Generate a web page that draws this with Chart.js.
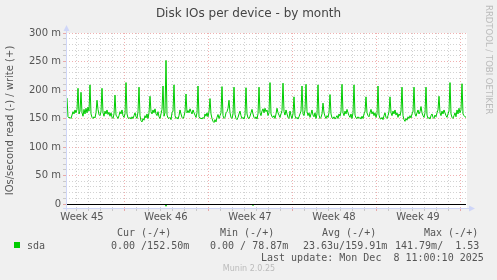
<!DOCTYPE html>
<html>
<head>
<meta charset="utf-8">
<script src="https://cdn.jsdelivr.net/npm/chart.js@4.4.1/dist/chart.umd.min.js"></script>
<style>
  html, body { margin: 0; padding: 0; background: #f0f0f0; }
  canvas { display: block; }
</style>
</head>
<body>
<canvas id="grafico" width="497" height="280"></canvas>
<script>
// escritas (+) por amostra de 2 horas, em milli-IOs/s
const escrita = [
  186,153,151,152,150,156,162,158,165,160,166,203,158,163,196,160,154,166,158,168,
  160,170,163,209,158,152,150,153,151,160,182,166,157,155,162,203,160,154,163,158,
  165,157,161,154,160,152,150,158,191,156,153,150,155,162,158,165,155,152,158,213,
  158,151,150,152,149,153,150,155,160,153,150,162,205,155,146,144,150,147,155,151,
  158,150,160,189,162,158,165,160,167,158,155,162,153,150,158,166,207,154,160,252,
  156,151,150,152,148,160,163,209,155,150,152,149,155,165,158,152,150,154,162,193,
  160,164,160,167,162,158,165,160,156,152,160,207,153,150,151,149,152,150,158,154,
  160,153,162,185,158,150,145,143,148,144,152,157,150,155,160,206,155,150,152,160,
  162,168,182,160,152,150,158,205,157,150,148,152,158,163,155,150,152,149,156,204,
  158,151,150,154,160,166,158,152,150,153,149,158,205,160,155,163,167,160,168,162,
  165,155,160,213,158,153,152,155,150,158,168,160,156,152,158,164,212,162,156,165,
  158,152,150,163,155,150,158,188,155,150,152,149,153,158,163,207,158,155,165,210,
  162,155,160,152,158,165,156,153,160,150,158,209,156,150,152,158,177,160,154,150,
  155,152,160,192,158,151,150,153,149,152,155,150,158,154,162,210,160,155,163,158,
  166,160,155,152,158,150,160,209,156,151,150,153,150,152,149,154,150,158,162,188,
  160,155,153,160,166,158,162,155,160,152,158,207,156,150,149,152,148,155,160,152,
  150,155,162,188,160,155,163,158,165,156,160,152,158,155,163,205,155,148,145,150,
  147,153,150,155,151,158,162,205,158,154,160,165,158,162,171,160,155,152,160,205,
  156,150,152,149,155,158,152,150,156,153,160,165,189,160,155,163,158,165,160,155,
  152,158,163,213,158,152,150,155,160,153,165,158,168,160,165,211,158,155,153,152
];
// leituras (-): quase sempre zero, só dois pequenos desvios
const leituraAmostras = [98, 99, 100, null, 185, 186, 187];
const leituraValores = [0, 4, 0, null, 0, 3, 0];

// horas relativas a seg 10 nov 00:00
const inicioHoras = -114;
const passoHoras = 2;
const eixoXMin = -116;
const eixoXMax = 686;

const semanas = ["Week 45", "Week 46", "Week 47", "Week 48", "Week 49"];
const centrosSemana = [-84, 84, 252, 420, 588];

const valoresY = [0, 50, 100, 150, 200, 250, 300];
const rotulosY = ["0", "50 m", "100 m", "150 m", "200 m", "250 m", "300 m"];

const cabecalhos = ["Cur (-/+)", "Min (-/+)", "Avg (-/+)", "Max (-/+)"];
const valoresLegenda = ["0.00 /152.50m", "0.00 / 78.87m", "23.63u/159.91m", "141.79m/  1.53"];
const serieNome = "sda";
const ultimaAtualizacao = "Last update: Mon Dec  8 11:00:10 2025";

const VERDE = "#00cc00";
const COR_TEXTO = "#555555";
const COR_EIXO = "#cfd6f8";
const GRADE = "rgba(143,143,143,0.4)";
const GRADE_MAIOR = "rgba(222,79,79,0.45)";

const pontosEscrita = escrita.map((v, i) => ({ x: inicioHoras + i * passoHoras, y: v }));
const pontosLeitura = leituraAmostras.map((a, k) =>
  a === null ? { x: null, y: null } : { x: inicioHoras + a * passoHoras, y: -leituraValores[k] }
);

const decoracao = {
  id: "decoracao",
  beforeDraw(chart) {
    const { ctx, chartArea: a } = chart;
    ctx.save();
    ctx.fillStyle = "#f0f0f0";
    ctx.fillRect(0, 0, chart.width, chart.height);
    ctx.fillStyle = "#ffffff";
    ctx.fillRect(a.left, a.top, a.right - a.left, a.bottom - a.top);
    ctx.restore();
  },
  afterDatasetsDraw(chart) {
    const { ctx, chartArea: a, scales } = chart;
    const y0 = Math.round(scales.y.getPixelForValue(0)) + 0.5;
    ctx.save();
    // linha do zero
    ctx.strokeStyle = "#000000";
    ctx.lineWidth = 1;
    ctx.beginPath();
    ctx.moveTo(a.left, y0);
    ctx.lineTo(a.right - 1, y0);
    ctx.stroke();
    // eixos com setas
    ctx.strokeStyle = COR_EIXO;
    ctx.fillStyle = COR_EIXO;
    const xl = Math.round(a.left) + 0.5;
    const yb = Math.round(a.bottom) + 0.5;
    ctx.beginPath();
    ctx.moveTo(xl, a.bottom + 3);
    ctx.lineTo(xl, a.top - 4);
    ctx.moveTo(a.left - 3, yb);
    ctx.lineTo(a.right + 4, yb);
    ctx.stroke();
    ctx.beginPath();
    ctx.moveTo(xl - 3, a.top - 2);
    ctx.lineTo(xl + 3, a.top - 2);
    ctx.lineTo(xl, a.top - 8);
    ctx.closePath();
    ctx.fill();
    ctx.beginPath();
    ctx.moveTo(a.right + 2, yb - 3);
    ctx.lineTo(a.right + 2, yb + 3);
    ctx.lineTo(a.right + 8, yb);
    ctx.closePath();
    ctx.fill();
    ctx.restore();
  },
  afterDraw(chart) {
    const { ctx } = chart;
    ctx.save();
    ctx.textBaseline = "middle";
    ctx.fillStyle = "#444444";
    ctx.font = "12px 'DejaVu Sans'";
    ctx.textAlign = "center";
    ctx.fillText("Disk IOs per device - by month", 248.5, 14);

    ctx.font = "10px 'DejaVu Sans Mono'";
    ctx.textAlign = "left";
    ctx.fillStyle = COR_TEXTO;
    const colX = [117, 220, 322, 424];
    const valX = [111, 210, 303, 395];
    cabecalhos.forEach((t, i) => ctx.fillText(t, colX[i], 233.5));
    valoresLegenda.forEach((t, i) => ctx.fillText(t, valX[i], 246.5));
    ctx.fillText(serieNome, 27, 246.5);
    ctx.fillText(ultimaAtualizacao, 261, 258.5);
    ctx.fillStyle = VERDE;
    ctx.fillRect(14, 242, 6, 6);

    ctx.fillStyle = "#bbbbbb";
    ctx.font = "8px 'DejaVu Sans'";
    ctx.textAlign = "center";
    ctx.fillText("Munin 2.0.25", 249, 269);

    ctx.translate(488.5, 5);
    ctx.rotate(Math.PI / 2);
    ctx.textAlign = "left";
    ctx.font = "8.5px 'DejaVu Sans'";
    ctx.fillText("RRDTOOL / TOBI OETIKER", 0, 0);
    ctx.restore();
  }
};

new Chart(document.getElementById("grafico"), {
  type: "line",
  data: {
    datasets: [
      {
        label: "sda",
        data: pontosEscrita,
        borderColor: VERDE,
        borderWidth: 1,
        pointRadius: 0,
        tension: 0
      },
      {
        label: "sda read",
        data: pontosLeitura,
        borderColor: VERDE,
        borderWidth: 1,
        pointRadius: 0,
        tension: 0,
        spanGaps: false
      }
    ]
  },
  options: {
    responsive: false,
    animation: false,
    devicePixelRatio: 1,
    layout: { padding: { left: 0, top: 33, right: 30, bottom: 52 } },
    plugins: { legend: { display: false }, tooltip: { enabled: false } },
    scales: {
      x: {
        type: "linear",
        min: eixoXMin,
        max: eixoXMax,
        afterFit: s => { s.height = 20; },
        grid: {
          color: c => c.tick.value % 168 === 0 ? GRADE_MAIOR : (c.tick.value % 24 === 0 ? GRADE : "rgba(0,0,0,0)"),
          tickLength: 3,
          lineWidth: 1
        },
        border: { display: false, dash: [1, 2] },
        ticks: {
          stepSize: 12,
          autoSkip: false,
          includeBounds: false,
          maxRotation: 0,
          minRotation: 0,
          padding: 0,
          color: COR_TEXTO,
          font: { family: "'DejaVu Sans'", size: 10 },
          callback: v => {
            const i = centrosSemana.indexOf(v);
            return i >= 0 ? semanas[i] : "";
          }
        }
      },
      y: {
        min: -7,
        max: 300,
        afterFit: s => { s.width = 66; },
        grid: {
          color: c => c.tick.value % 50 === 0 ? GRADE_MAIOR : GRADE,
          tickLength: 3,
          lineWidth: 1
        },
        border: { display: false, dash: [1, 2] },
        title: {
          display: true,
          text: "IOs/second read (-) / write (+)",
          color: COR_TEXTO,
          font: { family: "'DejaVu Sans'", size: 10 },
          padding: { top: 4, bottom: 0 }
        },
        ticks: {
          stepSize: 10,
          autoSkip: false,
          includeBounds: false,
          padding: 2,
          color: COR_TEXTO,
          font: { family: "'DejaVu Sans'", size: 10 },
          callback: v => {
            const i = valoresY.indexOf(v);
            return i >= 0 ? rotulosY[i] : "";
          }
        }
      }
    }
  },
  plugins: [decoracao]
});
</script>
</body>
</html>
